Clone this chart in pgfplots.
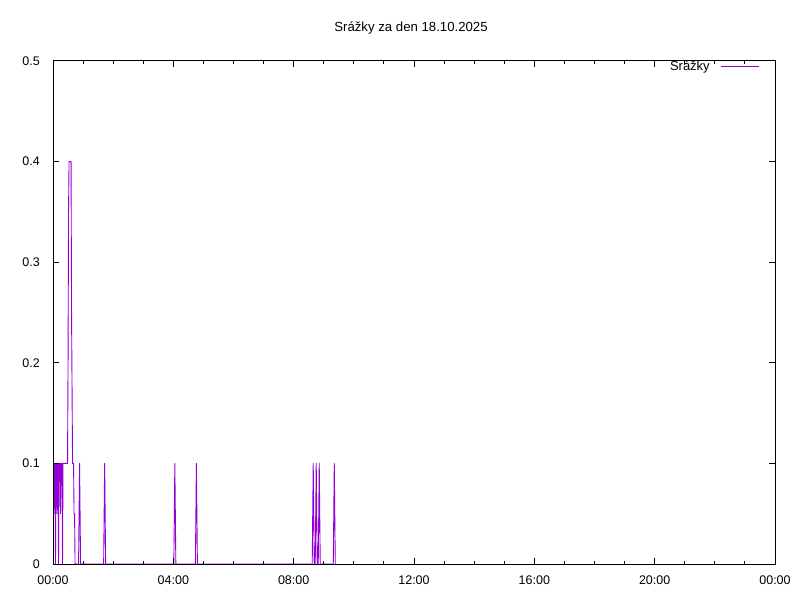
\documentclass[border=0pt]{standalone}
\usepackage{fontspec}
\setmainfont{Liberation Sans}
\usepackage{pgfplots}
\pgfplotsset{compat=1.18}
\definecolor{gpviolet}{HTML}{9400D3}
\begin{document}
\begin{tikzpicture}[x=1pt,y=1pt]
\path[use as bounding box, fill=white] (0,0) rectangle (800,600);
\begin{axis}[
  at={(53pt,36pt)}, anchor=south west,
  scale only axis, width=722pt, height=503pt,
  xmin=0, xmax=1440, ymin=0, ymax=0.5,
  xtick={0,240,480,720,960,1200,1440},
  xticklabels={00:00,04:00,08:00,12:00,16:00,20:00,00:00},
  minor x tick num=3,
  ytick={0,0.1,0.2,0.3,0.4,0.5},
  yticklabels={0,0.1,0.2,0.3,0.4,0.5},
  tick align=inside,
  major tick length=6pt, minor tick length=3pt,
  axis line style={line width=1pt},
  every tick/.style={black, line width=1pt},
  axis on top=true,
  every tick label/.append style={font=\fontsize{12.5}{15}\selectfont, inner sep=0pt},
  xticklabel style={anchor=north, yshift=-12pt},
  yticklabel style={anchor=east, xshift=-13pt},
  legend plot pos=right,
  legend image code/.code={\draw[#1] (0pt,0pt) -- (38pt,0pt);},
  legend style={draw=none, fill=none, at={(0.979,0.99)}, anchor=east, inner sep=0pt,
    font=\fontsize{13}{15}\selectfont,
    /tikz/every odd column/.append style={column sep=9pt}},
]
\addplot[gpviolet, line width=0.9pt, sharp plot, line join=round] coordinates {
(0,0.1)(1,0.1)(2,0.05)(3,0.1)(4,0.1)(5,0)(6,0.1)(7,0.1)(8,0.05)(9,0.1)(10,0.1)(11,0)(12,0.1)(14,0.1)(15,0.05)(16,0.1)(18,0.1)(19,0)(20,0.1)(29,0.1)(30,0.2)(31,0.35)(32,0.4)(36,0.4)(37,0.25)(39,0.1)(41,0.1)(42,0.05)(43,0.05)(44,0)(51,0)(53,0.1)(55,0)(101,0)(103,0.1)(105,0)(241,0)(243,0.1)(245,0)(284,0)(286,0.1)(288,0)(517,0)(519,0.1)(521,0)(523,0)(525,0.1)(527,0)(529,0)(531,0.1)(533,0)(559,0)(561,0.1)(563,0)
};
\addlegendentry{Srážky}
\end{axis}
\node[anchor=base, font=\fontsize{13.2}{15}\selectfont] at (411,568.3) {Srážky za den 18.10.2025};
\end{tikzpicture}
\end{document}
